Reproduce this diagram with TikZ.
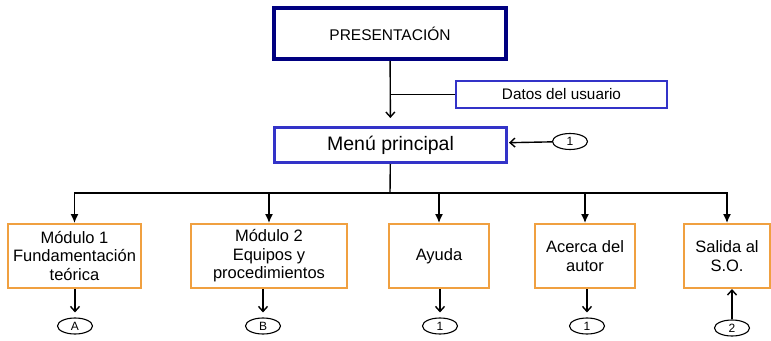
\documentclass[tikz,border=0pt]{standalone}
\usepackage{fontspec}
\setmainfont{Liberation Sans}
\usetikzlibrary{positioning}
\usetikzlibrary{arrows.meta}
\usetikzlibrary{shapes.geometric}
\definecolor{navy}{HTML}{000080}
\definecolor{menublue}{HTML}{3333C8}
\definecolor{boxorange}{HTML}{F0A040}
\tikzset{>={Straight Barb[length=5pt,width=9pt]}}
\tikzset{modbox/.style={draw=boxorange,line width=2pt,align=center,inner sep=2pt,
        minimum height=64pt,font=\fontsize{16.5}{18.5}\selectfont}}
\tikzset{conn/.style={ellipse,draw,line width=1.1pt,inner sep=0pt,minimum width=35pt,
        minimum height=16pt,font=\fontsize{12}{12}\selectfont}}
\tikzset{ln/.style={line width=1.4pt}}

\begin{document}
\begin{tikzpicture}[x=1pt, y=1pt]
        \useasboundingbox (0,0) rectangle (771,-340);
        \node[draw=navy, line width=4pt, minimum width=232pt, minimum height=51pt,
              font=\fontsize{15.5}{18}\selectfont] (Pres) at (390,-33.5) {PRESENTACIÓN};
        \node[draw=menublue, line width=1.5pt, minimum width=211pt, minimum height=27pt,
              font=\fontsize{15.3}{18}\selectfont] (Datos) at (561.5,-94.5) {Datos del usuario};
        \node[draw=menublue, line width=3pt, minimum width=232pt, minimum height=35pt,
              font=\fontsize{19.5}{22}\selectfont] (Menu) at (390.5,-145) {Menú principal};
        \node[conn] (C1) at (570,-141.5) {1};
        \node[modbox, minimum width=133pt] (Mod1) at (74.5,-256) {Módulo 1\\Fundamentación\\teórica};
        \node[modbox, minimum width=156pt] (Mod2) at (269,-256) {Módulo 2\\Equipos y\\procedimientos};
        \node[modbox, minimum width=100pt] (Ayuda) at (439,-256) {Ayuda};
        \node[modbox, minimum width=100pt] (Autor) at (585,-256) {Acerca del\\autor};
        \node[modbox, minimum width=86pt] (Salida) at (727,-256) {Salida al\\S.O.};
        \node[conn] (CA) at (75,-326) {A};
        \node[conn] (CB) at (263,-326) {B};
        \node[conn] (C1a) at (440,-326) {1};
        \node[conn] (C1b) at (587,-326) {1};
        \node[conn] (C2) at (732,-328) {2};
        \coordinate (Bus) at (390,-193);
        \draw[ln,->,shorten >=8pt] (Pres) -- (Menu);
        \draw[ln] (Datos.west) -- (Datos.west -| Pres.south);
        \draw[ln,->,shorten >=1pt] (C1) -- (Menu);
        \draw[ln] (Menu) -- (Bus);
        \foreach \m in {Mod1,Mod2,Ayuda,Autor,Salida}
            \draw[ln,-{Latex[length=9pt,width=8pt]}] (Bus) -| (\m.north);
        \foreach \m/\c in {Mod1/CA,Mod2/CB,Ayuda/C1a,Autor/C1b}
            \draw[ln,->,shorten >=5pt] (\c.north |- \m.south) -- (\c);
        \draw[ln,->] (C2) -- (C2.north |- Salida.south);
    \end{tikzpicture}
\end{document}
